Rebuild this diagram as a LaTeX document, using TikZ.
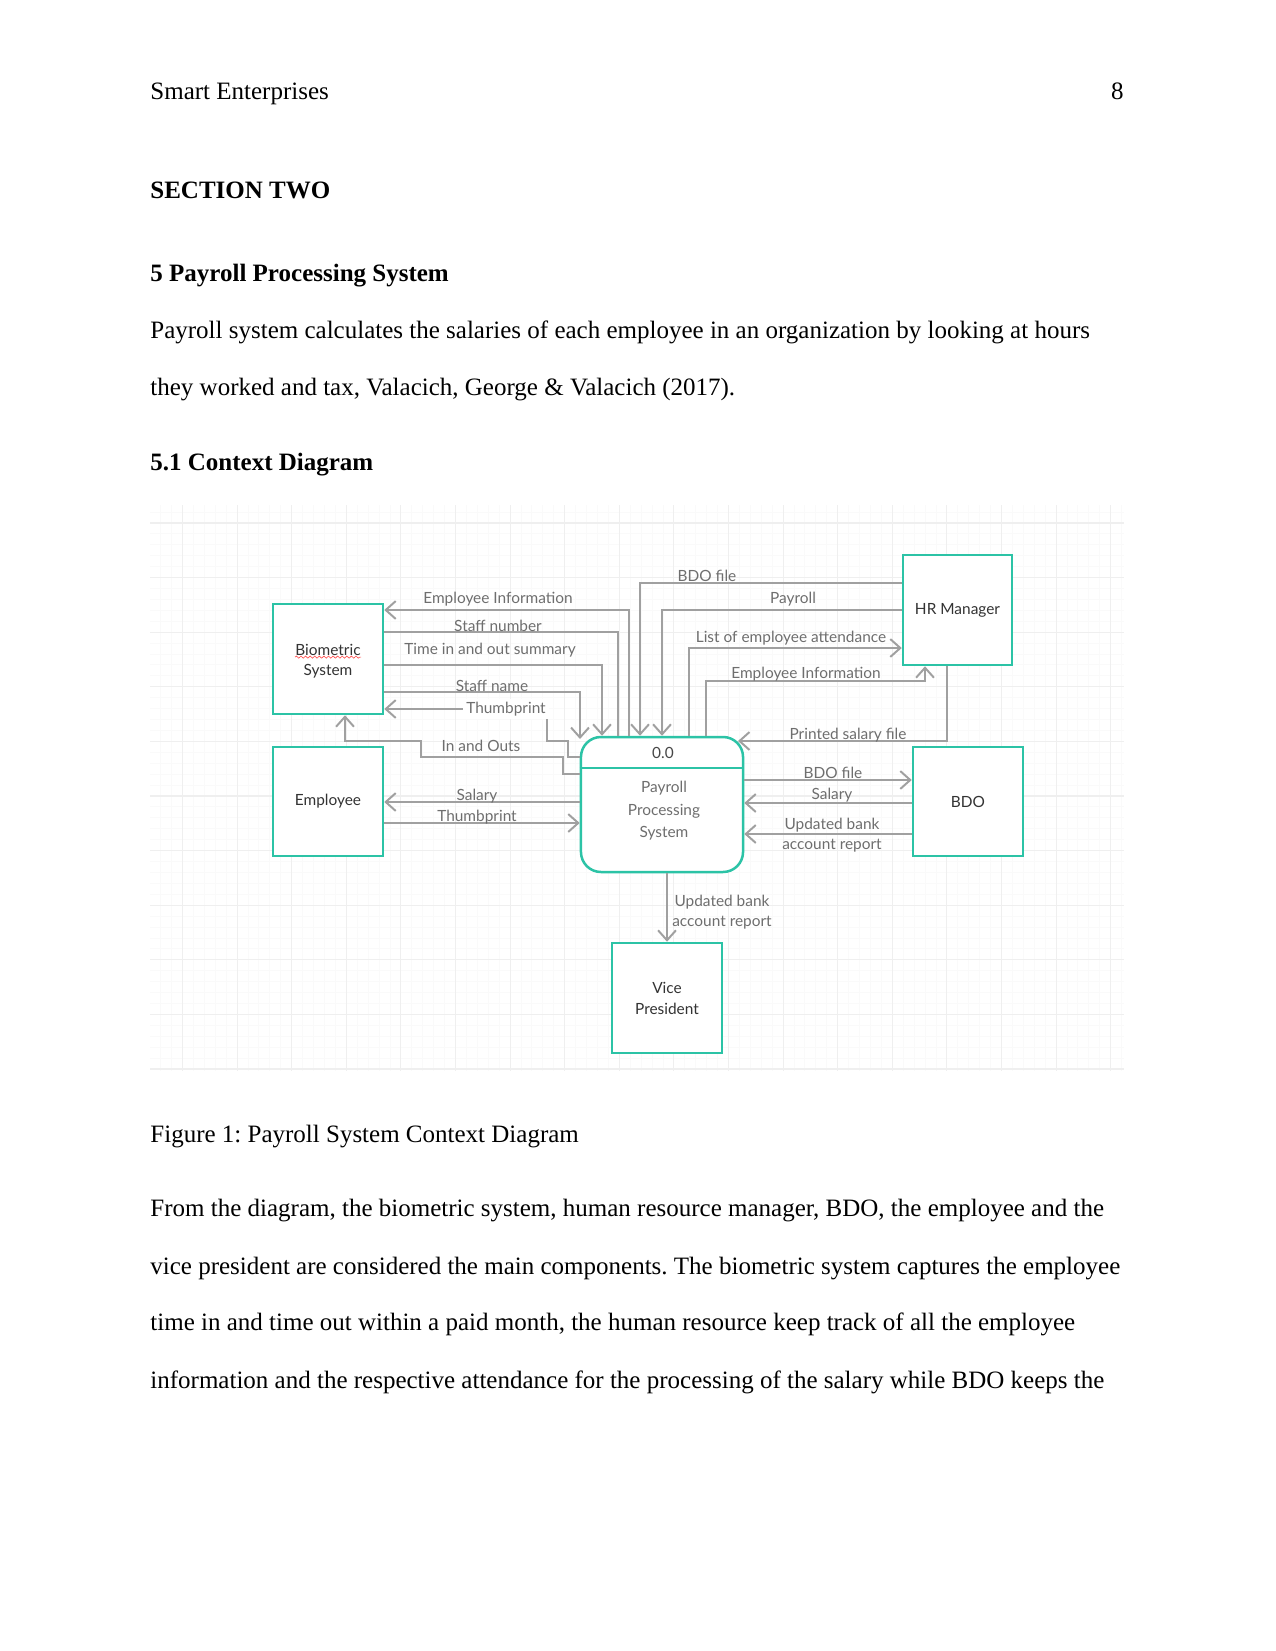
\documentclass[tikz,border=0pt]{standalone}
\usepackage{fontspec}
\setmainfont{Liberation Serif}
\newfontfamily\lato{Lato}
\usetikzlibrary{arrows.meta,decorations.pathmorphing}
\definecolor{teal1}{HTML}{2CC3A6}
\definecolor{linegray}{HTML}{A0A0A0}
\definecolor{lblgray}{HTML}{6E6E6E}
\definecolor{txtdark}{HTML}{333333}
\definecolor{gridmaj}{HTML}{EFEFEF}
\definecolor{gridmin}{HTML}{FAFAFA}
\tikzset{
  body/.style={inner sep=0pt, anchor=base west, font=\fontsize{12}{14}\selectfont},
  bodyb/.style={body, font=\fontsize{12}{14}\selectfont\bfseries},
  ent/.style={draw=teal1, line width=1.2pt, fill=white, minimum width=52.8pt, minimum height=52.8pt,
    inner sep=0pt, align=center, text=txtdark, font=\lato\fontsize{7.4}{10.1}\selectfont},
  flow/.style={draw=linegray, line width=0.95pt, -{Straight Barb[length=4.8pt,width=8.6pt]}},
  flowna/.style={draw=linegray, line width=0.95pt},
  lbl/.style={inner sep=0pt, text=lblgray, align=center, font=\lato\fontsize{7.4}{9.6}\selectfont},
  gmin/.style={draw=gridmin, line width=0.45pt},
  gmaj/.style={draw=gridmaj, line width=0.5pt}
}
\frenchspacing
\begin{document}
\frenchspacing
\begin{tikzpicture}[x=0.48pt,y=-0.48pt]
\useasboundingbox[fill=white] (0,0) rectangle (1275,1651);

% ---- page text ----
\node[body] (hdr) at (150,99.5) {Smart Enterprises};
\node[body, anchor=base east] (pg) at (1124,99.5) {8};
\node[bodyb] (sec) at (150,198.5) {SECTION TWO};
\node[bodyb] (h5) at (150,281) {5 Payroll Processing System};
\node[body] (p1) at (150,338) {Payroll system calculates the salaries of each employee in an organization by looking at hours};
\node[body] (p2) at (150,395) {they worked and tax, Valacich, George \& Valacich (2017).};
\node[bodyb] (h51) at (150,470) {5.1 Context Diagram};
\node[body] (cap) at (150,1142) {Figure 1: Payroll System Context Diagram};
\node[body] (q1) at (150,1216) {From the diagram, the biometric system, human resource manager, BDO, the employee and the};
\node[body] (q2) at (150,1274) {vice president are considered the main components. The biometric system captures the employee};
\node[body] (q3) at (150,1330) {time in and time out within a paid month, the human resource keep track of all the employee};
\node[body] (q4) at (150,1388) {information and the respective attendance for the processing of the salary while BDO keeps the};

% ---- grid ----
\begin{scope}
\clip (150,505) rectangle (1124,1071);
\foreach \i in {0,...,89} \draw[gmin] ({149.74+10.92*\i},505) -- ({149.74+10.92*\i},1071);
\foreach \j in {0,...,51} \draw[gmin] (150,{512.08+10.92*\j}) -- (1124,{512.08+10.92*\j});
\foreach \i in {0,...,17} \draw[gmaj] ({182.5+54.6*\i},505) -- ({182.5+54.6*\i},1071);
\foreach \j in {0,...,10} \draw[gmaj] (150,{523+54.6*\j}) -- (1124,{523+54.6*\j});
\end{scope}

% ---- entities ----
\node[ent] (bio) at (328,659) {};
\node[ent, minimum height=52.3pt] (emp) at (328,801.5) {Employee};
\node[ent, minimum width=52.3pt] (hr) at (957.5,610) {HR Manager};
\node[ent, minimum height=52.3pt] (bdo) at (968,801.5) {BDO};
\node[ent] (vp) at (667,998) {Vice\\President};
\node[ent, minimum width=77.8pt, minimum height=64.8pt, rounded corners=9.6pt] (proc) at (662,804.5) {};

\node[inner sep=0pt, text=txtdark, font=\lato\fontsize{7.4}{10.1}\selectfont] (bio1) at (328,650) {Biometric};
\node[inner sep=0pt, text=txtdark, font=\lato\fontsize{7.4}{10.1}\selectfont] (bio2) at (328,671) {System};
\draw[red!70, line width=0.3pt, decorate, decoration={snake, amplitude=0.5pt, segment length=2.2pt}]
  (bio1.south west) ++(0,1) coordinate (sq1) -- (sq1 -| bio1.south east);

\draw[draw=teal1, line width=1.2pt] (proc.west |- 0,768) -- (proc.east |- 0,768);
\node[inner sep=0pt, text=txtdark!90, font=\lato\fontsize{7.4}{10}\selectfont] (pid) at (663,753) {0.0};
\node[inner sep=0pt, text=lblgray, align=center, font=\lato\fontsize{7.4}{10.8}\selectfont] (pname) at (664,811) {Payroll\\Processing\\System};

% ---- flows with Biometric System ----
\draw[flow] (629,0 |- proc.north) -- (629,610) -- (bio.east |- 0,610);
\node[lbl] (l1) at (498,599) {Employee Information};
\draw[flowna] (bio.east |- 0,632) -- (618,632) -- (618,0 |- proc.north);
\node[lbl] (l2) at (498,626) {Staff number};
\draw[flow] (bio.east |- 0,665) -- (602,665) -- (602,0 |- proc.north);
\node[lbl] (l3) at (490,650) {Time in and out summary};
\draw[flow] (bio.east |- 0,692) -- (580,692) -- (580,739);
\node[lbl] (l4) at (492,686) {Staff name};
\draw[flow] (proc.west |- 0,757) -- (568,757) -- (568,741) -- (547,741) -- (547,709) -- (bio.east |- 0,709);
\node[lbl, fill=white, inner sep=1.5pt] (l5) at (506,709) {Thumbprint};
\draw[flow] (proc.west |- 0,774) -- (563,774) -- (563,757) -- (421,757) -- (421,741) -- (345,741) -- (345,0 |- bio.south);
\node[lbl] (l6) at (481,746) {In and Outs};

% ---- flows with Employee ----
\draw[flow] (proc.west |- 0,802) -- (emp.east |- 0,802);
\node[lbl] (l7) at (477,796) {Salary};
\draw[flow] (emp.east |- 0,823) -- (proc.west |- 0,823);
\node[lbl] (l8) at (477,817) {Thumbprint};

% ---- flows with HR Manager ----
\draw[flow] (hr.west |- 0,583) -- (640,583) -- (640,0 |- proc.north);
\node[lbl] (l9) at (707,576) {BDO file};
\draw[flow] (hr.west |- 0,610) -- (662,610) -- (662,0 |- proc.north);
\node[lbl] (l10) at (793,599) {Payroll};
\draw[flow] (689,0 |- proc.north) -- (689,648) -- (hr.west |- 0,648);
\node[lbl] (l11) at (791,638) {List of employee attendance};
\draw[flow] (706,0 |- proc.north) -- (706,681) -- (925,681) -- (925,0 |- hr.south);
\node[lbl] (l12) at (806,674) {Employee Information};
\draw[flow] (947,0 |- hr.south) -- (947,741) -- (738,741);
\node[lbl] (l13) at (848,735) {Printed salary file};

% ---- flows with BDO ----
\draw[flow] (proc.east |- 0,780) -- (bdo.west |- 0,780);
\node[lbl] (l14) at (833,773) {BDO file};
\draw[flow] (bdo.west |- 0,803) -- (proc.east |- 0,803);
\node[lbl] (l15) at (832,795) {Salary};
\draw[flow] (bdo.west |- 0,834) -- (proc.east |- 0,834);
\node[lbl] (l16) at (832,835.5) {Updated bank\\account report};

% ---- flow to Vice President ----
\draw[flow] (667,0 |- proc.south) -- (vp.north);
\node[lbl] (l17) at (722,912) {Updated bank\\account report};
\end{tikzpicture}
\end{document}
